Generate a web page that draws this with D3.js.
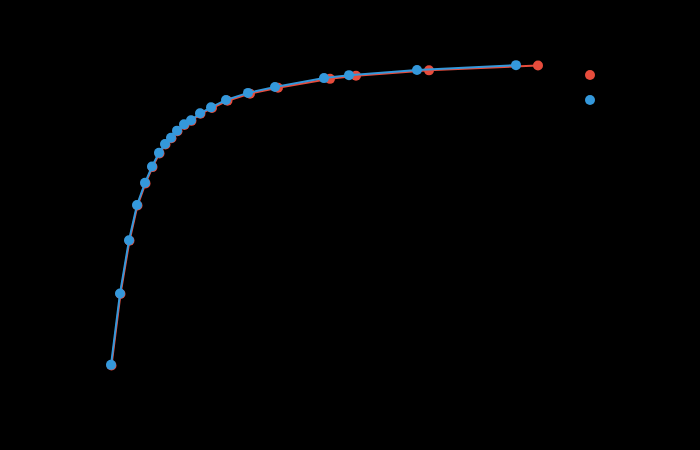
<!DOCTYPE html>
<html>
<head>
<meta charset="utf-8">
<script src="https://cdn.jsdelivr.net/npm/d3@7"></script>
<style>
  html, body { margin: 0; padding: 0; background: #000; }
  svg { display: block; font-family: "DejaVu Sans", sans-serif; }
</style>
</head>
<body>
<div class="chart"></div>
<script>
// series values
const seriesNames = ["Series A", "Series B"]
const redX = [5.15, 6.05, 6.95, 7.75, 8.55, 9.25, 9.95, 10.55, 11.15, 11.75, 12.45, 13.15, 14.05, 15.2, 16.75, 19.0, 21.8, 27.0, 29.6, 36.9, 47.8]
const redY = [12.05, 31.35, 45.75, 55.25, 61.25, 65.65, 69.35, 71.75, 73.45, 75.35, 77.05, 78.15, 80.05, 81.6, 83.6, 85.5, 87.1, 89.5, 90.35, 91.8, 93.1]
const blueX = [5.1, 6.0, 6.9, 7.7, 8.5, 9.2, 9.9, 10.5, 11.1, 11.7, 12.4, 13.1, 14.0, 15.1, 16.6, 18.8, 21.5, 26.4, 28.9, 35.7, 45.6]
const blueY = [12.2, 31.5, 45.9, 55.4, 61.4, 65.8, 69.5, 71.9, 73.6, 75.5, 77.2, 78.3, 80.2, 81.8, 83.8, 85.7, 87.3, 89.7, 90.5, 91.9, 93.2]

const width = 700, height = 450
const margin = { top: 40, right: 140, bottom: 40, left: 60 }

const color = { "Series A": "#e74c3c", "Series B": "#3498db" }

const series = [
    { key: seriesNames[0], values: redX.map((x, i) => ({ x, y: redY[i] })) },
    { key: seriesNames[1], values: blueX.map((x, i) => ({ x, y: blueY[i] })) }
]

const x = d3.scaleLinear()
    .domain([0, 50])
    .range([margin.left, width - margin.right])

const y = d3.scaleLinear()
    .domain([0, 100])
    .range([height - margin.bottom, margin.top])

const svg = d3.select(".chart")
    .append("svg")
    .attr("width", width)
    .attr("height", height)
    .style("background", "#000")

// axes are drawn in black, as in the picture
svg.append("g")
    .attr("transform", `translate(0,${height - margin.bottom})`)
    .call(d3.axisBottom(x).ticks(5))
    .call(g => g.selectAll("path, line").attr("stroke", "#000"))
    .call(g => g.selectAll("text").attr("fill", "#000"))

svg.append("g")
    .attr("transform", `translate(${margin.left},0)`)
    .call(d3.axisLeft(y).ticks(5))
    .call(g => g.selectAll("path, line").attr("stroke", "#000"))
    .call(g => g.selectAll("text").attr("fill", "#000"))

const line = d3.line()
    .x(d => x(d.x))
    .y(d => y(d.y))

const groups = svg.selectAll(".series")
    .data(series)
    .join("g")
    .attr("class", "series")

groups.append("path")
    .attr("fill", "none")
    .attr("stroke", d => color[d.key])
    .attr("stroke-width", 2)
    .attr("d", d => line(d.values))

groups.selectAll("circle")
    .data(d => d.values.map(v => ({ ...v, key: d.key })))
    .join("circle")
    .attr("cx", d => x(d.x))
    .attr("cy", d => y(d.y))
    .attr("r", 5)
    .attr("fill", d => color[d.key])

const legend = svg.append("g")
    .selectAll("g")
    .data(seriesNames)
    .join("g")
    .attr("transform", (d, i) => `translate(590,${75 + i * 25})`)

legend.append("circle")
    .attr("r", 5)
    .attr("fill", d => color[d])

legend.append("text")
    .attr("x", 12)
    .attr("dy", "0.35em")
    .attr("font-size", 12)
    .attr("fill", "#000")
    .text(d => d)
</script>
</body>
</html>
